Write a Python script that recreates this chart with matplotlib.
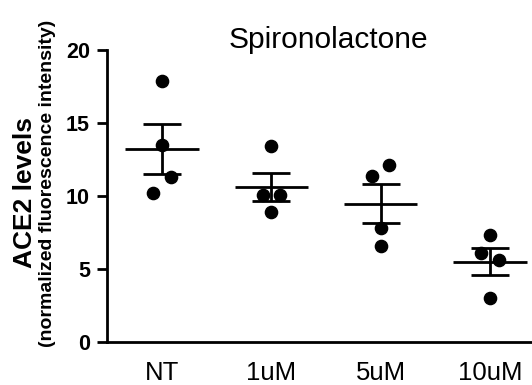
import numpy as np
import matplotlib
matplotlib.use("Agg")
import matplotlib.pyplot as plt

matplotlib.rcParams.update({
    "font.family": ["Liberation Sans", "DejaVu Sans"],
})

# data
groups = ["NT", "1uM", "5uM", "10uM"]
nt_vals = [17.9, 13.5, 11.3, 10.2]
um1_vals = [13.4, 10.1, 10.1, 8.9]
um5_vals = [12.1, 11.4, 7.8, 6.6]
um10_vals = [7.3, 6.1, 5.6, 3.0]
yticks = [0, 5, 10, 15, 20]

# horizontal spread of the dots inside each column (style only)
spread = [
    [0.0, 0.0, 0.08, -0.08],
    [0.0, -0.08, 0.08, 0.0],
    [0.08, -0.08, 0.0, 0.0],
    [0.0, -0.08, 0.08, 0.0],
]

all_vals = [nt_vals, um1_vals, um5_vals, um10_vals]

fig = plt.figure(figsize=(5.32, 3.85), dpi=100)
ax = fig.add_axes([107 / 532, 43 / 385, 1 - 107 / 532, 292 / 385])

lw = 2.0
for i, vals in enumerate(all_vals):
    v = np.array(vals)
    xs = i + np.array(spread[i])
    ax.plot(xs, v, "o", color="black", markersize=8.8, zorder=3, clip_on=False)
    m = v.mean()
    sem = v.std(ddof=1) / np.sqrt(len(v))
    ax.hlines(m, i - 0.335, i + 0.335, color="black", lw=lw, zorder=4)
    ax.vlines(i, m - sem, m + sem, color="black", lw=lw, zorder=4)
    ax.hlines([m - sem, m + sem], i - 0.175, i + 0.175, color="black", lw=lw, zorder=4)

ax.set_xlim(-0.503, 3.384)
ax.set_ylim(0, 20)
ax.set_yticks(yticks)
ax.set_yticklabels([str(t) for t in yticks], fontsize=15.5, fontweight="bold")
ax.set_xticks(range(len(groups)))
ax.set_xticklabels(groups, fontsize=18.5)
ax.tick_params(axis="y", length=7.2, width=lw, pad=5)
ax.tick_params(axis="x", length=0, pad=14)

for s in ["top", "right"]:
    ax.spines[s].set_visible(False)
for s in ["left", "bottom"]:
    ax.spines[s].set_linewidth(lw)

fig.text(328 / 532, 1 - 40 / 385, "Spironolactone", fontsize=21.5,
         ha="center", va="center")
fig.text(25 / 532, 1 - 192 / 385, "ACE2 levels", fontsize=19,
         fontweight="bold", rotation=90, ha="center", va="center")
fig.text(47.5 / 532, 1 - 183 / 385, "(normalized fluorescence intensity)",
         fontsize=14, fontweight="bold", rotation=90, ha="center", va="center")

fig.savefig("out.png", dpi=100, facecolor="white")
